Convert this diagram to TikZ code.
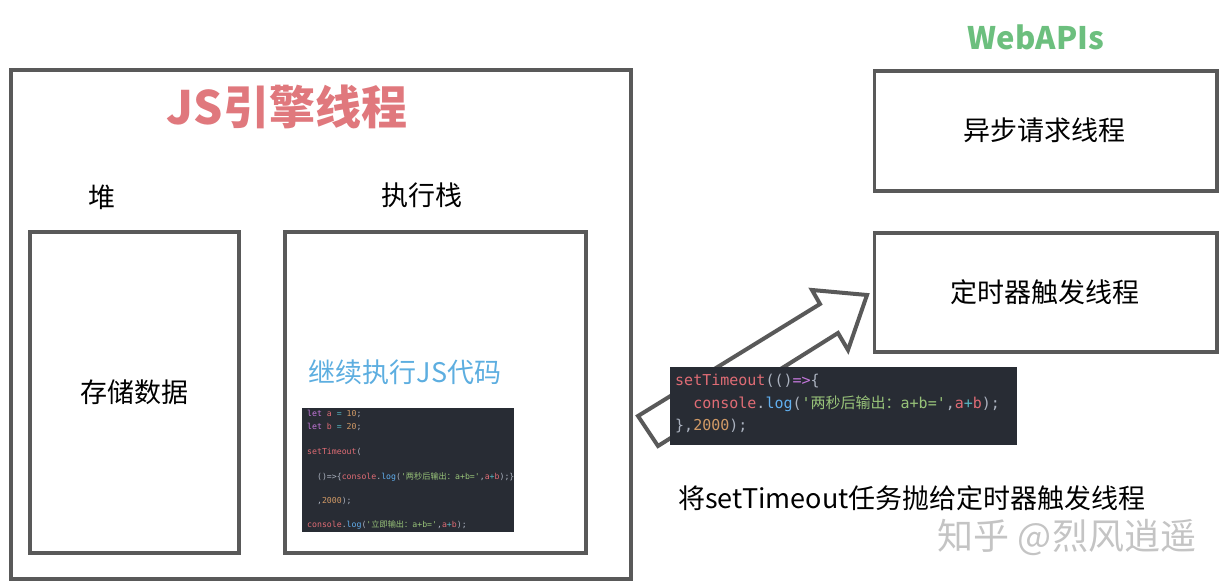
\documentclass[tikz,border=0pt]{standalone}
\usepackage{fontspec}
\setmainfont{Noto Sans CJK SC}
\setmonofont{DejaVu Sans Mono}
\newfontfamily\cjk{Noto Sans CJK SC}
\definecolor{boxgray}{HTML}{595959}
\definecolor{titlepink}{HTML}{E0787D}
\definecolor{apigreen}{HTML}{6CBF7E}
\definecolor{jsblue}{HTML}{5DAEE0}
\definecolor{codebg}{HTML}{282C34}
\definecolor{cred}{HTML}{E06C75}
\definecolor{cgray}{HTML}{ABB2BF}
\definecolor{cpurple}{HTML}{C678DD}
\definecolor{cblue}{HTML}{61AFEF}
\definecolor{cgreen}{HTML}{98C379}
\definecolor{corange}{HTML}{D19A66}
\definecolor{ccyan}{HTML}{56B6C2}
\definecolor{wmgray}{HTML}{C4C4C4}
\newcommand\ck[2]{\textcolor{#1}{#2}}
\tikzset{
  bigbox/.style={draw=boxgray, line width=4pt, inner sep=0pt, fill=none},
  midbox/.style={draw=boxgray, line width=3.5pt, inner sep=0pt},
  lbl/.style={inner sep=0pt, font=\fontsize{27}{30}\selectfont},
  codebox/.style={fill=codebg, inner sep=0pt, draw=none},
  codeline/.style={anchor=base west, inner sep=0pt, text=cgray},
}
\begin{document}
\begin{tikzpicture}[x=1pt, y=-1pt]
\useasboundingbox (0,0) rectangle (1231,585);
% outer JS engine box
\node[bigbox, minimum width=620.5pt, minimum height=508.5pt] (engine) at (320.75,324.75) {};
\node[inner sep=0pt, text=titlepink, font=\fontsize{46}{50}\selectfont\bfseries] (title) at (287,107) {JS引擎线程};
\node[lbl] (heaplbl) at (102,197) {堆};
\node[lbl] (stacklbl) at (422,195) {执行栈};
\node[midbox, minimum width=209pt, minimum height=321pt] (heap) at (134.5,392.5) {};
\node[midbox, minimum width=301pt, minimum height=321pt] (stack) at (435.5,392.5) {};
\node[lbl] (store) at (134,392) {存储数据};
\node[lbl, text=jsblue] (cont) at (405,372) {继续执行JS代码};
% small code block
\node[codebox, minimum width=212pt, minimum height=124pt] (code1) at (408,470) {};
\begin{scope}[font=\fontsize{8.2}{10}\ttfamily]
\node[codeline] (c1a) at (307,416) {\ck{cpurple}{let} \ck{cred}{a} \ck{ccyan}{=} \ck{corange}{10};};
\node[codeline] (c1b) at (307,429) {\ck{cpurple}{let} \ck{cred}{b} \ck{ccyan}{=} \ck{corange}{20};};
\node[codeline] (c1c) at (307,454) {\ck{cred}{setTimeout}(};
\node[codeline] (c1d) at (307,479) {\ \ ()=>\{\ck{cred}{console}.\ck{cblue}{log}(\ck{cgreen}{'{\cjk 两秒后输出：}a+b='},\ck{cred}{a}\ck{ccyan}{+}\ck{cred}{b});\}};
\node[codeline] (c1e) at (307,503) {\ \ ,\ck{corange}{2000});};
\node[codeline] (c1f) at (307,527) {\ck{cred}{console}.\ck{cblue}{log}(\ck{cgreen}{'{\cjk 立即输出：}a+b='},\ck{cred}{a}\ck{ccyan}{+}\ck{cred}{b});};
\end{scope}
% WebAPIs
\node[inner sep=0pt, text=apigreen, font=\fontsize{31}{34}\selectfont\bfseries] (apis) at (1036,37) {WebAPIs};
\node[midbox, minimum width=342.5pt, minimum height=120pt] (ajax) at (1045.75,131) {};
\node[lbl] (ajaxlbl) at (1044,130) {异步请求线程};
\node[midbox, minimum width=342.5pt, minimum height=119pt] (timer) at (1045.75,292.5) {};
\node[lbl] (timerlbl) at (1045,292) {定时器触发线程};
% big arrow
\draw[draw=boxgray, line width=4pt, fill=white, line join=miter]
  (638,416) -- (820,304) -- (812,290) -- (867,295) -- (848,350) -- (838,333) -- (658,446) -- cycle;
% second code block
\node[codebox, minimum width=347pt, minimum height=78pt] (code2) at (843.5,406) {};
\begin{scope}[font=\fontsize{15}{18}\ttfamily]
\node[codeline] (c2a) at (675,385) {\ck{cred}{setTimeout}(()\ck{cpurple}{=>}\{};
\node[codeline] (c2b) at (675,408) {\ \ \ck{cred}{console}.\ck{cblue}{log}(\ck{cgreen}{'{\cjk 两秒后输出：}a+b='},\ck{cred}{a}\ck{ccyan}{+}\ck{cred}{b});};
\node[codeline] (c2c) at (675,430) {\},\ck{corange}{2000});};
\end{scope}
\node[lbl] (throw) at (912,498) {将setTimeout任务抛给定时器触发线程};
\node[inner sep=0pt, text=wmgray, font=\fontsize{36}{40}\selectfont] (wm) at (1067,537) {知乎 @烈风逍遥};
\end{tikzpicture}
\end{document}
